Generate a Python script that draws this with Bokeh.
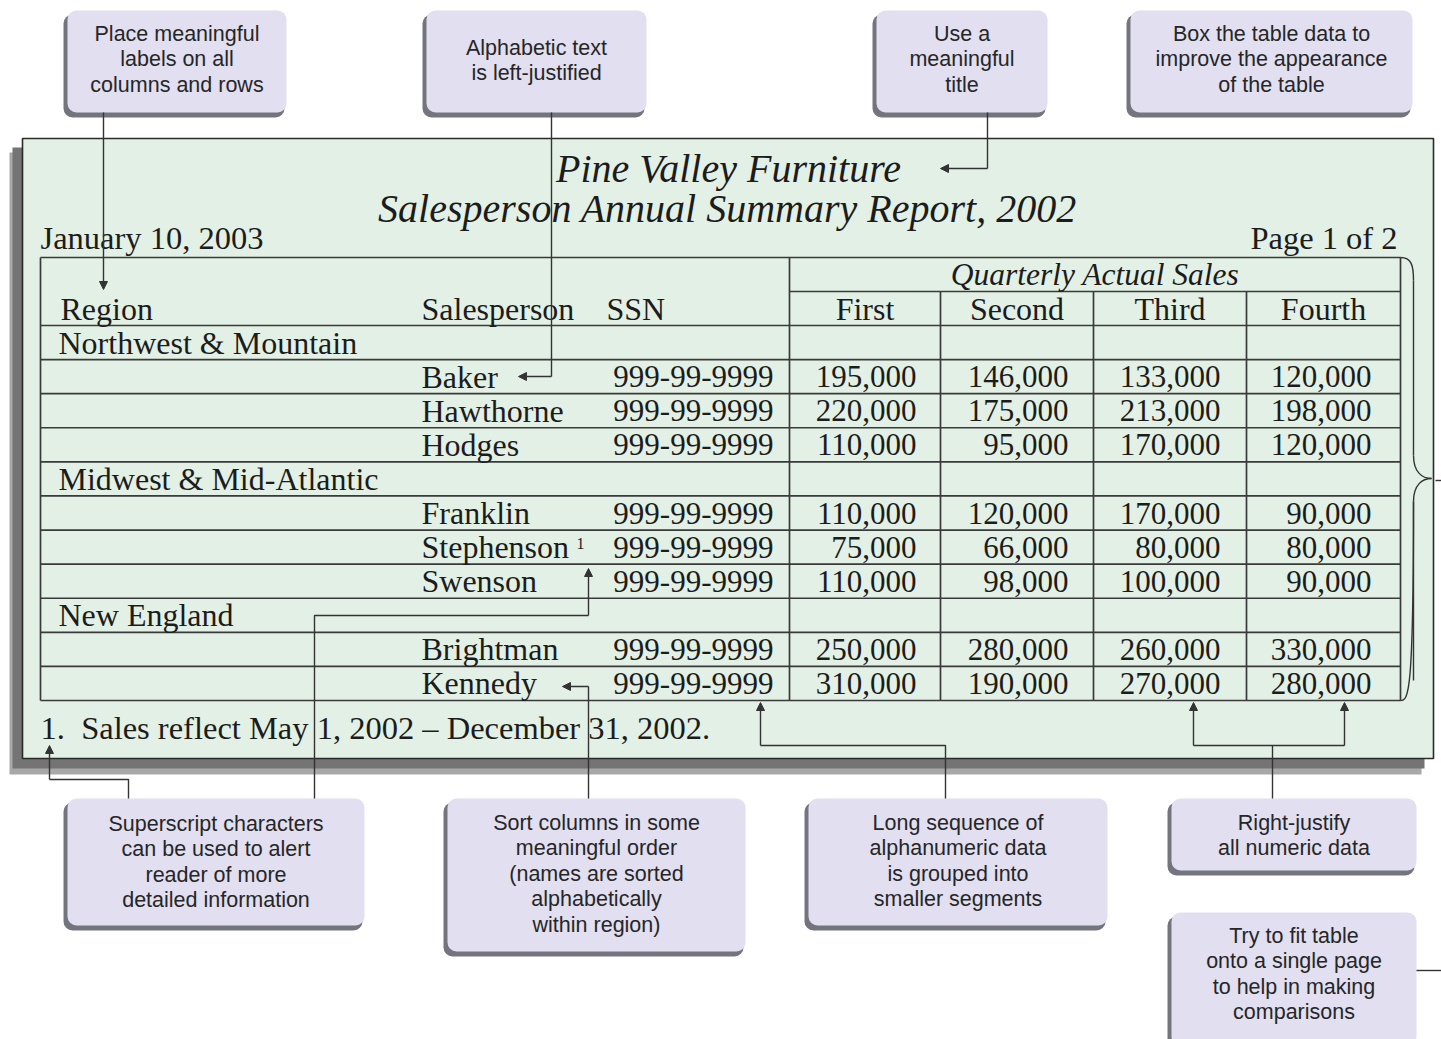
from bokeh.plotting import figure
from bokeh.models import Range1d, BoxAnnotation, Arrow, NormalHead
from bokeh.core.properties import value
from bokeh.embed import file_html
from bokeh.resources import INLINE

# ---------------- data ----------------
title_lines = ["Pine Valley Furniture", "Salesperson Annual Summary Report, 2002"]
report_date = "January 10, 2003"
page_label = "Page 1 of 2"
group_header = "Quarterly Actual Sales"
column_labels = ["Region", "Salesperson", "SSN"]
quarter_labels = ["First", "Second", "Third", "Fourth"]
regions = ["Northwest & Mountain", "Midwest & Mid-Atlantic", "New England"]
salespeople = [["Baker", "Hawthorne", "Hodges"],
               ["Franklin", "Stephenson", "Swenson"],
               ["Brightman", "Kennedy"]]
ssn = "999-99-9999"
q1 = [195000, 220000, 110000, 110000, 75000, 110000, 250000, 310000]
q2 = [146000, 175000, 95000, 120000, 66000, 98000, 280000, 190000]
q3 = [133000, 213000, 170000, 170000, 80000, 100000, 260000, 270000]
q4 = [120000, 198000, 120000, 90000, 80000, 90000, 330000, 280000]
footnote_person = "Stephenson"
footnote_mark = "1"
footnote = "1.\u00a0 Sales reflect May 1, 2002 \u2013 December 31, 2002."

callout_texts = [
    ["Place meaningful", "labels on all", "columns and rows"],
    ["Alphabetic text", "is left-justified"],
    ["Use a", "meaningful", "title"],
    ["Box the table data to", "improve the appearance", "of the table"],
    ["Superscript characters", "can be used to alert", "reader of more", "detailed information"],
    ["Sort columns in some", "meaningful order", "(names are sorted", "alphabetically", "within region)"],
    ["Long sequence of", "alphanumeric data", "is grouped into", "smaller segments"],
    ["Right-justify", "all numeric data"],
    ["Try to fit table", "onto a single page", "to help in making", "comparisons"],
]

# ---------------- layout ----------------
SERIF = value("Liberation Serif")
SANS = value("Liberation Sans")
INK = "#1c1c1c"
LINE = "#333333"

W, H = 1441, 1039
p = figure(width=W, height=H, x_range=Range1d(0, W), y_range=Range1d(H, 0),
           output_backend="svg", toolbar_location=None, min_border=0)
p.axis.visible = False
p.grid.visible = False
p.outline_line_color = None
p.background_fill_color = "white"
p.border_fill_color = "white"


def box(l, r, t, b, fill, line=None, radius=0, alpha=1.0, lw=1.5):
    p.add_layout(BoxAnnotation(left=l, right=r, top=t, bottom=b, fill_color=fill,
                               fill_alpha=alpha, line_color=line, line_alpha=1.0 if line else 0,
                               line_width=lw, border_radius=radius, level="underlay"))


def txt(xs, ys, texts, size, align="left", font=SERIF, style="normal", color=INK):
    p.text(x=xs, y=ys, text=texts, text_font=font, text_font_size=f"{size}px",
           text_align=align, text_baseline="middle", text_font_style=style, text_color=color)


# panel with shadow
box(9, 1421, 152, 774, "#a8a8a8")
box(12, 1424, 147, 768, "#747474")
box(22, 1433, 138, 758, "#e3f0e5", line="#2a2a2a", lw=1.6)

# callout boxes (left, right, top, bottom, text center y of first line)
callout_boxes = [
    (67, 286, 10, 112, 33),
    (426, 646, 10, 112, 47),
    (876, 1047, 10, 112, 33),
    (1130, 1412, 10, 112, 33),
    (67, 364, 798, 925, 823),
    (447, 745, 798, 951, 822),
    (808, 1107, 798, 925, 822),
    (1171, 1416, 798, 870, 822),
    (1171, 1416, 912, 1045, 935),
]
for (l, r, t, b, y0), lines in zip(callout_boxes, callout_texts):
    box(l - 4, r - 2, t + 4, b + 5, "#74747e", radius=9)
    box(l, r, t, b, "#e1dff0", radius=9)
    cx = (l + r) / 2
    txt([cx] * len(lines), [y0 + 25.5 * i for i in range(len(lines))], lines, 21.5,
        align="center", font=SANS, color="#262626")

# titles
txt([728, 727], [168, 208], title_lines, 40, align="center", style="italic")
txt([40], [237], [report_date], 32.5)
txt([1397], [237], [page_label], 32.5, align="right")

# table grid
T_TOP, H1, H2, T_BOT = 257, 291, 325, 700
T_L, T_R = 40, 1400
COL_X = [789, 940, 1093, 1246]
n_rows = len(regions) + sum(len(g) for g in salespeople)
ROW_H = (T_BOT - H2) / n_rows

hx, hy = [], []
hx.append([T_L, T_R]); hy.append([T_TOP, T_TOP])
hx.append([COL_X[0], T_R]); hy.append([H1, H1])
for i in range(n_rows + 1):
    y = H2 + i * ROW_H
    hx.append([T_L, T_R]); hy.append([y, y])
hx.append([T_L, T_L]); hy.append([T_TOP, T_BOT])
hx.append([T_R, T_R]); hy.append([T_TOP, T_BOT])
hx.append([COL_X[0], COL_X[0]]); hy.append([T_TOP, T_BOT])
for c in COL_X[1:]:
    hx.append([c, c]); hy.append([H1, T_BOT])
p.multi_line(xs=hx, ys=hy, line_color="#3a3a3a", line_width=1.7)

# headers
txt([(COL_X[0] + T_R) / 2], [274], [group_header], 31.5, align="center", style="italic")
txt([60, 421, 606], [308, 308, 308], column_labels, 32)
q_cx = [(a + b) / 2 for a, b in zip(COL_X, COL_X[1:] + [T_R])]
txt(q_cx, [308] * 4, quarter_labels, 32, align="center")

# rows
reg_x, reg_y, per_x, per_y, per_t = [], [], [], [], []
num_x, num_y, num_t = [], [], []
ssn_y = []
sup_x, sup_y = [], []
quarters = [q1, q2, q3, q4]
num_right = [916, 1068, 1220, 1371]
row = 0
k = 0
for reg, people in zip(regions, salespeople):
    yc = H2 + (row + 0.5) * ROW_H
    reg_x.append(58); reg_y.append(yc)
    row += 1
    for name in people:
        yc = H2 + (row + 0.5) * ROW_H
        per_x.append(421); per_y.append(yc); per_t.append(name)
        ssn_y.append(yc)
        for qi, q in enumerate(quarters):
            num_x.append(num_right[qi]); num_y.append(yc); num_t.append(f"{q[k]:,}")
        if name == footnote_person:
            sup_x.append(576); sup_y.append(yc - 4)
        row += 1
        k += 1
txt(reg_x, reg_y, regions, 32)
txt(per_x, per_y, per_t, 32)
txt([773] * len(ssn_y), ssn_y, [ssn] * len(ssn_y), 31, align="right")
txt(num_x, num_y, num_t, 31, align="right")
txt(sup_x, sup_y, [footnote_mark] * len(sup_x), 16)
txt([40], [727], [footnote], 32.5)

# brace
p.bezier(x0=[1400, 1413, 1431, 1413], y0=[257, 455, 478, 501],
         x1=[1413, 1431, 1413, 1400], y1=[280, 478, 501, 700],
         cx0=[1411, 1413, 1422, 1413], cy0=[257, 472, 478, 695],
         cx1=[1413, 1422, 1413, 1408], cy1=[265, 478, 484, 700],
         line_color=LINE, line_width=1.4)
p.segment(x0=[1413, 1413], y0=[280, 501], x1=[1413, 1413], y1=[455, 680],
          line_color=LINE, line_width=1.4)

# connectors: polyline points, last segment ends with an arrowhead if flagged
connectors = [
    ([(103, 112), (103, 289)], True),
    ([(551, 112), (551, 376), (518, 376)], True),
    ([(987, 112), (987, 168), (940, 168)], True),
    ([(128, 798), (128, 779), (49, 779), (49, 745)], True),
    ([(314, 798), (314, 615), (588, 615), (588, 568)], True),
    ([(588, 798), (588, 686), (562, 686)], True),
    ([(945, 798), (945, 745), (760, 745), (760, 702)], True),
    ([(1272, 798), (1272, 745)], False),
    ([(1193, 745), (1344, 745)], False),
    ([(1193, 745), (1193, 702)], True),
    ([(1344, 745), (1344, 702)], True),
    ([(1416, 970), (1441, 970)], False),
    ([(1435, 480), (1441, 480)], False),
]
lx, ly = [], []
for pts, arrow in connectors:
    body = pts[:-1] if arrow else pts
    if len(body) >= 2:
        lx.append([q[0] for q in body]); ly.append([q[1] for q in body])
    if arrow:
        (xa, ya), (xb, yb) = pts[-2], pts[-1]
        p.add_layout(Arrow(x_start=xa, y_start=ya, x_end=xb, y_end=yb,
                           line_color=LINE, line_width=1.4,
                           end=NormalHead(size=8, fill_color=LINE, line_color=LINE)))
p.multi_line(xs=lx, ys=ly, line_color=LINE, line_width=1.4)

open("out.html", "w").write(file_html(p, INLINE))
